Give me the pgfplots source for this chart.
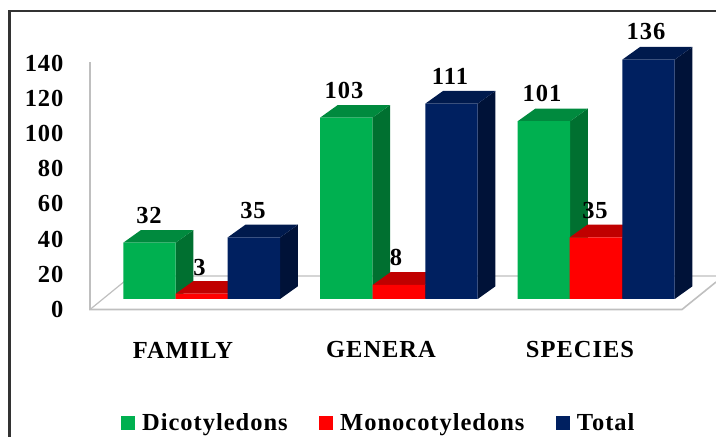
\documentclass[border=0pt]{standalone}
\usepackage{fontspec}
\setmainfont{Liberation Serif}
\newfontfamily\chartfont[LetterSpace=4]{Liberation Serif Bold}
\usepackage{pgfplots}
\usepackage{pgfplotstable}
\pgfplotsset{compat=1.18}
\definecolor{gF}{HTML}{00B050}\definecolor{gS}{HTML}{007030}\definecolor{gT}{HTML}{008A3E}
\definecolor{rF}{HTML}{FF0000}\definecolor{rS}{HTML}{A00000}\definecolor{rT}{HTML}{C00000}
\definecolor{nF}{HTML}{002060}\definecolor{nS}{HTML}{001238}\definecolor{nT}{HTML}{001A4D}
\definecolor{wall}{HTML}{BFBFBF}
\newcommand{\depthbar}[4]{%
  \pgfmathsetmacro{\xa}{#1}\pgfmathsetmacro{\xb}{#1+52.4}\pgfmathsetmacro{\xc}{#1+52.4+17.7}\pgfmathsetmacro{\xd}{#1+17.7}%
  \pgfmathsetmacro{\yt}{#2+7.2}%
  \addplot[draw=none,fill=#3,forget plot] coordinates {(\xb,0) (\xc,7.2) (\xc,\yt) (\xb,#2)} --cycle;
  \addplot[draw=none,fill=#4,forget plot] coordinates {(\xa,#2) (\xd,\yt) (\xc,\yt) (\xb,#2)} --cycle;
}
\pgfplotstableread{
x y l
149 47.5 32
199.5 18 3
253 50.5 35
344 118.5 103
396 23.5 8
450 126.5 111
542 116.5 101
595 50.5 35
646 152 136
}\labelstable
\begin{document}
\begin{tikzpicture}
\begin{axis}[
  at={(0,0)},anchor=south west,scale only axis,width=716pt,height=437pt,
  xmin=0,xmax=716,ymin=-72.44,ymax=175.85,
  axis line style={draw=none},tick style={draw=none},
  ytick={0,20,...,140},
  xtick={183,381,580},xticklabels={FAMILY,GENERA,SPECIES},
  /pgf/number format/assume math mode=true,
  tick label style={font=\chartfont\fontsize{24.5}{26}\selectfont,text=black},
  yticklabel style={anchor=east,xshift=67pt},
  xticklabel style={anchor=center,yshift=87pt},
]
% frame
\addplot[draw=black!80,line width=2.5pt] coordinates {(9.5,-72.44) (9.5,169.6) (716,169.6)};
% wall and floor
\addplot[draw=wall,line width=1.6pt] coordinates {(90,140.6) (90,0) (682,0) (716,15.6)};
\addplot[draw=wall,line width=1.2pt] coordinates {(90,0) (131,19) (716,19)};
\end{axis}
\begin{axis}[
  at={(0,0)},anchor=south west,scale only axis,width=716pt,height=437pt,
  xmin=0,xmax=716,ymin=-78.41,ymax=169.89,
  axis line style={draw=none},tick style={draw=none},xtick=\empty,ytick=\empty,
  legend columns=3,
  legend style={at={(121/716,14/437)},anchor=west,draw=none,fill=none,inner sep=0pt,
    font=\chartfont\fontsize{24.5}{26}\selectfont,
    /tikz/every odd column/.append style={column sep=5pt},
    /tikz/every even column/.append style={column sep=29.5pt}},
  legend image code/.code={\path[draw=none,#1] (0pt,-7pt) rectangle (14pt,7pt);},
]
\depthbar{123.3}{32}{gS}{gT}\depthbar{320}{103}{gS}{gT}\depthbar{517.7}{101}{gS}{gT}
\addplot[ybar,bar width=52.4pt,bar shift=0pt,draw=none,fill=gF] coordinates {(149.5,32) (346.2,103) (543.9,101)};
\addlegendentry{Dicotyledons}
\depthbar{175.7}{3}{rS}{rT}\depthbar{372.7}{8}{rS}{rT}\depthbar{569.7}{35}{rS}{rT}
\addplot[ybar,bar width=52.4pt,bar shift=0pt,draw=none,fill=rF] coordinates {(201.9,3) (398.9,8) (595.9,35)};
\addlegendentry{Monocotyledons}
\depthbar{227.7}{35}{nS}{nT}\depthbar{425.3}{111}{nS}{nT}\depthbar{622.3}{136}{nS}{nT}
\addplot[ybar,bar width=52.4pt,bar shift=0pt,draw=none,fill=nF] coordinates {(253.9,35) (451.5,111) (648.5,136)};
\addlegendentry{Total}
\addplot[draw=none,mark=none,forget plot,nodes near coords,point meta=explicit symbolic,
  nodes near coords align=center,
  every node near coord/.append style={font=\chartfont\fontsize{24.5}{26}\selectfont,text=black,anchor=center,yshift=0pt}]
  table[x=x,y=y,meta=l] {\labelstable};
\end{axis}
\end{tikzpicture}
\end{document}
